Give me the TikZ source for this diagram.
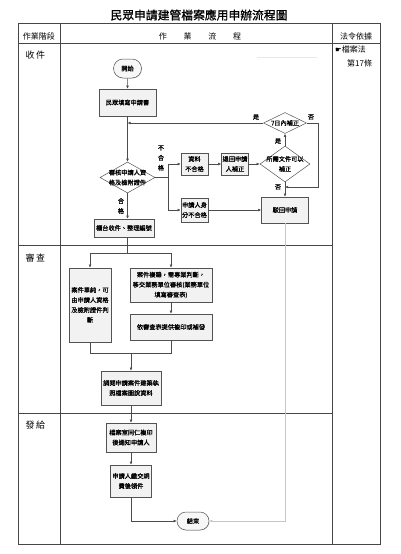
\documentclass[tikz,border=0pt]{standalone}
\usepackage{fontspec}
\setmainfont{Noto Sans CJK TC}
\newfontfamily\symfnt{DejaVu Sans}
\newfontfamily\titlefnt[FakeBold=1]{Noto Sans CJK TC}
\newfontfamily\boxfnt[FakeBold=0.6]{Noto Sans CJK TC}
\usetikzlibrary{shapes.geometric,shapes.misc,arrows.meta,shadows,calc}
\newcommand{\nodefnt}{\boxfnt\fontsize{6.2}{10}\selectfont}
\newcommand{\hdrfnt}{\fontsize{8}{10}\selectfont}
\newcommand{\phfnt}{\fontsize{9}{11}\selectfont}
\begin{document}
\begin{tikzpicture}[x=1pt,y=-1pt,
  box/.style={draw=gray!65!black, fill=gray!10, line width=0.5pt, inner sep=1pt,
    align=center, font=\nodefnt,
    drop shadow={shadow xshift=0.9pt,shadow yshift=-0.9pt,fill=gray!55}},
  termbox/.style={rounded rectangle, draw=gray!65!black, fill=gray!6, line width=0.5pt,
    inner sep=1pt, font=\nodefnt,
    drop shadow={shadow xshift=0.7pt,shadow yshift=-0.7pt,fill=gray!45}},
  dia/.style={diamond, draw=gray!65!black, fill=white, line width=0.5pt, inner sep=0pt},
  dtext/.style={font=\nodefnt, align=center},
  conn/.style={draw=gray!60!black, line width=0.5pt, -{Latex[length=3.2pt,width=2.8pt]}},
  plain/.style={draw=gray!60!black, line width=0.5pt},
  lbl/.style={font=\nodefnt, inner sep=0pt, align=center},
  frame/.style={draw=gray!55!black, line width=0.7pt}
]
\useasboundingbox (0,0) rectangle (400,554);

% title
\node[font=\titlefnt\fontsize{11.8}{14}\selectfont] (title) at (199,15) {民眾申請建管檔案應用申辦流程圖};

% table
\draw[frame] (18,23) rectangle (380,544);
\draw[frame] (60,23) -- (60,544);
\draw[frame] (332,23) -- (332,544);
\draw[frame] (18,43) -- (380,43);
\draw[frame] (18,245) -- (332,245);
\draw[frame] (18,413) -- (332,413);
\draw[gray!18, line width=0.4pt] (257,57) -- (317,57);

\node[font=\hdrfnt] (h1) at (39,36) {作業階段};
\node[font=\hdrfnt] (h2) at (200,36) {作\hspace{2.1em}業\hspace{2.1em}流\hspace{2.1em}程};
\node[font=\hdrfnt] (h3) at (356,36) {法令依據};
\node[font=\phfnt, anchor=west] (p1) at (22,55) {收\,件};
\node[font=\phfnt, anchor=west] (p2) at (22,258) {審\,查};
\node[font=\phfnt, anchor=west] (p3) at (22,425) {發\,給};
\node[font=\hdrfnt, anchor=west, inner sep=0pt] (law1) at (335,49) {{\symfnt\fontsize{7.5}{9}\selectfont ☛}檔案法};
\node[font=\hdrfnt, anchor=west, inner sep=0pt] (law2) at (347,63) {第17條};

% nodes
\node[termbox, minimum width=30pt, minimum height=19pt] (start) at (127.5,68.5) {開始};
\node[box, minimum width=57pt, minimum height=27pt] (apply) at (127.5,102.5) {民眾填寫申請書};
\node[dia, minimum width=43pt, minimum height=21pt,
  label={[dtext]center:7日內補正}] (d7) at (285,123) {};
\node[dia, minimum width=55pt, minimum height=31pt,
  label={[dtext]center:{審核申請人資\\格及檢附證件}}] (review) at (127.5,177.5) {};
\node[box, minimum width=27pt, minimum height=22pt] (datafail) at (194.5,164) {資料\\不合格};
\node[box, minimum width=26pt, minimum height=22pt] (returnbox) at (235,164) {退回申請\\人補正};
\node[dia, minimum width=50pt, minimum height=36pt,
  label={[dtext]center:{所需文件可以\\補正}}] (dneed) at (285,164) {};
\node[box, minimum width=27pt, minimum height=24pt] (idfail) at (194.5,210) {申請人身\\分不合格};
\node[box, minimum width=47pt, minimum height=26pt] (reject) at (285,210) {駁回申請};
\node[box, minimum width=60pt, minimum height=18pt] (counter) at (124,228) {櫃台收件、整理編號};

\node[box, minimum width=42pt, minimum height=74pt] (simple) at (90,305) {案件單純，可\\由申請人資格\\及檢附證件判\\斷};
\node[box, minimum width=82pt, minimum height=34pt] (complex) at (171,285) {案件複雜，需專業判斷，\\移交業務單位審核(業務單位\\填寫審查表)};
\node[box, minimum width=82pt, minimum height=26pt] (copy) at (171,327) {依審查表提供複印或補發};
\node[box, minimum width=60pt, minimum height=34pt] (read) at (131,388) {調閱申請案件建築執\\照檔案圖說資料};
\node[box, minimum width=50pt, minimum height=29pt] (notify) at (131,437.5) {檔案室同仁複印\\後通知申請人};
\node[box, minimum width=41pt, minimum height=32pt] (pay) at (131,481) {申請人繳交規\\費後領件};
\node[termbox, minimum width=34pt, minimum height=18pt] (end) at (193,521) {結束};

% labels
\node[lbl] (yes1) at (256,117) {是};
\node[lbl] (no1) at (311,117) {否};
\node[lbl] (yes2) at (278,141) {是};
\node[lbl] (no2) at (278,187) {否};
\node[lbl] (ng) at (161,158) {不\\合\\格};
\node[lbl] (ok) at (121,206) {合\\格};

% connectors
\draw[conn] (start) -- (apply);
\draw[conn] (apply) -- (review);
\coordinate (j7) at (apply.south |- d7.west);
\draw[conn] (d7.west) -- (j7);
\coordinate (rb) at ($(review.east)+(13,0)$);
\draw[plain] (review.east) -- (rb);
\draw[conn] (rb) |- (datafail.west);
\draw[conn] (rb) |- (idfail.west);
\draw[conn] (datafail) -- (returnbox);
\draw[conn] (returnbox.east) -- (dneed.west);
\draw[conn] (dneed.north) -- (d7.south);
\draw[conn] (dneed.south) -- (reject.north);
\coordinate (nj) at ($(dneed.south)!0.33!(reject.north)$);
\draw[conn] (d7.east) -- ++(11,0) |- (nj);
\draw[conn] (idfail) -- (reject);
\draw[conn] (review.south) -- (review.south |- counter.north);

\coordinate (s1) at ($(review.south |- counter.south)+(0,16)$);
\draw[plain] (review.south |- counter.south) -- (s1);
\draw[conn] (s1) -| (simple.north);
\draw[conn] (s1) -| (complex.north);
\draw[conn] (complex) -- (copy);
\coordinate (m1) at ($(read.north)+(0,-18)$);
\draw[plain] (simple.south) |- (copy.south |- m1) -- (copy.south);
\draw[conn] (m1) -- (read.north);
\draw[conn] (read) -- (notify);
\draw[conn] (notify) -- (pay);
\draw[conn] (pay.south) |- (end.west);
\draw[conn, draw=gray!45] (reject.south) |- (end.east);
\end{tikzpicture}
\end{document}
